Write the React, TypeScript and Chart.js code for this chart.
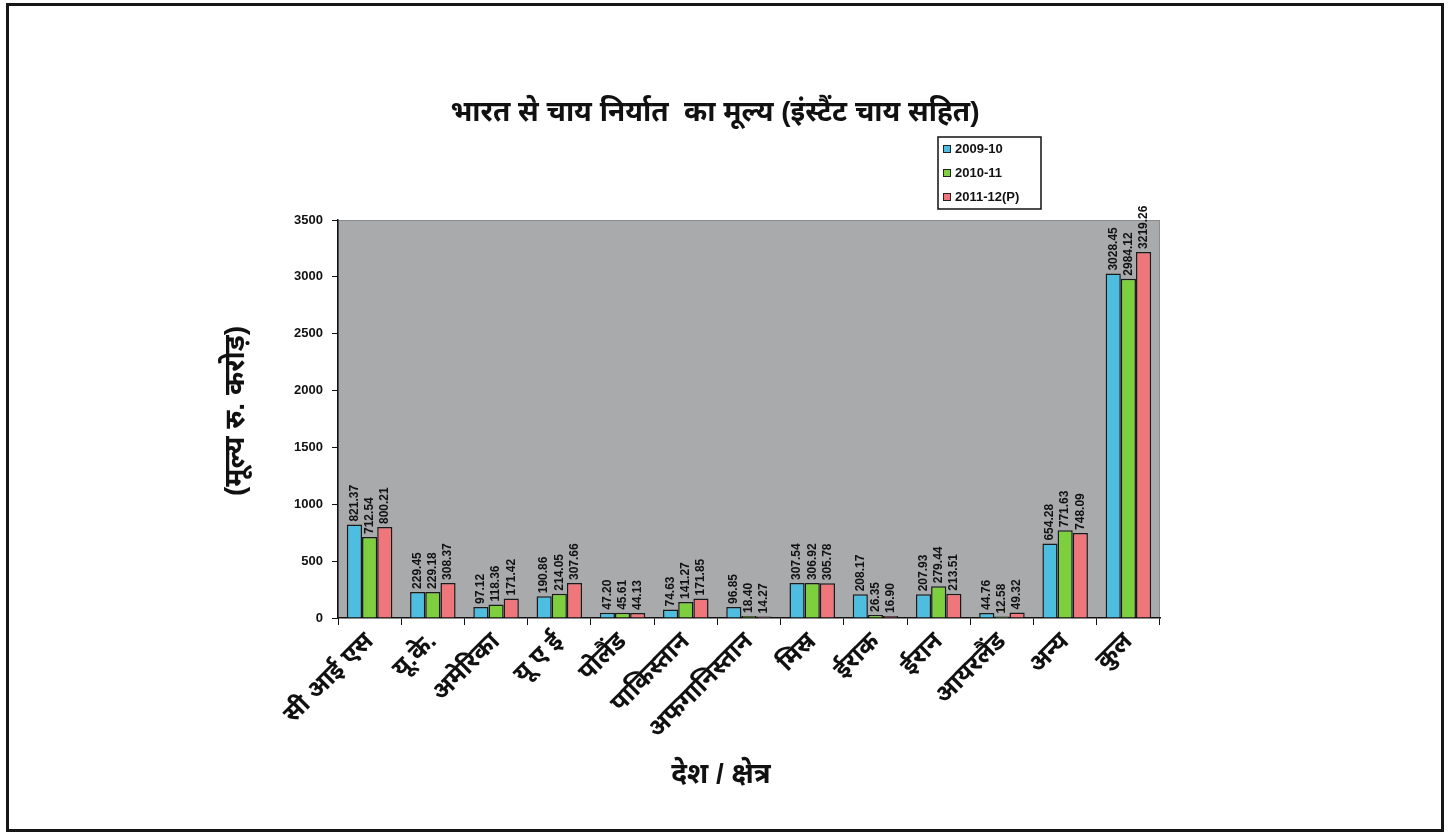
import React, { useEffect, useRef } from "react";
import { Chart, registerables } from "chart.js";

Chart.register(...registerables);

const chartTitle = "भारत से चाय निर्यात  का मूल्य (इंस्टैंट चाय सहित)";
const yAxisTitle = "(मूल्य रु. करोड़)";
const xAxisTitle = "देश / क्षेत्र";

const categories = [
  "सी आई एस",
  "यू.के.",
  "अमेरिका",
  "यू ए ई",
  "पोलैंड",
  "पाकिस्तान",
  "अफगानिस्तान",
  "मिस्र",
  "ईराक",
  "ईरान",
  "आयरलैंड",
  "अन्य",
  "कुल",
];

const seriesNames = ["2009-10", "2010-11", "2011-12(P)"];

const values2009 = [821.37, 229.45, 97.12, 190.86, 47.2, 74.63, 96.85, 307.54, 208.17, 207.93, 44.76, 654.28, 3028.45];
const values2010 = [712.54, 229.18, 118.36, 214.05, 45.61, 141.27, 18.4, 306.92, 26.35, 279.44, 12.58, 771.63, 2984.12];
const values2011 = [800.21, 308.37, 171.42, 307.66, 44.13, 171.85, 14.27, 305.78, 16.9, 213.51, 49.32, 748.09, 3219.26];

const yTicks = [0, 500, 1000, 1500, 2000, 2500, 3000, 3500];

const fillColors = ["#4dbde0", "#7dcf3d", "#ef767a"];
const FONT = "'Liberation Sans', Arial, 'Noto Sans', sans-serif";

const decorations = {
  id: "decorations",
  beforeDraw(chart: any) {
    const { ctx, chartArea } = chart;
    ctx.save();
    ctx.fillStyle = "#ffffff";
    ctx.fillRect(0, 0, chart.width, chart.height);
    ctx.fillStyle = "#a9aaac";
    ctx.fillRect(chartArea.left, chartArea.top, chartArea.right - chartArea.left, chartArea.bottom - chartArea.top);
    ctx.strokeStyle = "#8a8b8d";
    ctx.lineWidth = 1;
    ctx.strokeRect(chartArea.left + 0.5, chartArea.top + 0.5, chartArea.right - chartArea.left - 1, chartArea.bottom - chartArea.top - 1);
    ctx.restore();
  },
  afterDatasetsDraw(chart: any) {
    const { ctx } = chart;
    ctx.save();
    ctx.fillStyle = "#111";
    ctx.font = `bold 12px ${FONT}`;
    ctx.textAlign = "left";
    ctx.textBaseline = "middle";
    chart.data.datasets.forEach((ds: any, di: number) => {
      const meta = chart.getDatasetMeta(di);
      meta.data.forEach((bar: any, i: number) => {
        const v = ds.data[i];
        ctx.save();
        ctx.translate(bar.x, bar.y - 3);
        ctx.rotate(-Math.PI / 2);
        ctx.fillText(v.toFixed(2), 0, 0);
        ctx.restore();
      });
    });
    ctx.restore();
  },
  afterDraw(chart: any) {
    const { ctx } = chart;
    ctx.save();
    ctx.fillStyle = "#111";
    // chart title
    ctx.font = `bold 28px ${FONT}`;
    ctx.textAlign = "center";
    ctx.textBaseline = "middle";
    ctx.fillText(chartTitle, 715, 113);
    // x axis title
    ctx.fillText(xAxisTitle, 721, 775);
    // y axis title
    ctx.save();
    ctx.translate(236, 411);
    ctx.rotate(-Math.PI / 2);
    ctx.fillText(yAxisTitle, 0, 0);
    ctx.restore();

    // legend box
    const lx = 938, ly = 137, lw = 103, lh = 72;
    ctx.fillStyle = "#ffffff";
    ctx.fillRect(lx, ly, lw, lh);
    ctx.strokeStyle = "#111";
    ctx.lineWidth = 1.5;
    ctx.strokeRect(lx, ly, lw, lh);
    ctx.font = `bold 13px ${FONT}`;
    ctx.textAlign = "left";
    seriesNames.forEach((name, i) => {
      const cy = ly + 12 + i * 24;
      ctx.fillStyle = fillColors[i];
      ctx.fillRect(lx + 5, cy - 4, 8, 8);
      ctx.strokeStyle = "#222";
      ctx.lineWidth = 1;
      ctx.strokeRect(lx + 5.5, cy - 3.5, 7, 7);
      ctx.fillStyle = "#111";
      ctx.fillText(name, lx + 17, cy);
    });
    ctx.restore();
  },
};

export default function App() {
  const canvasRef = useRef<HTMLCanvasElement | null>(null);

  useEffect(() => {
    document.body.style.margin = "0";
    const canvas = canvasRef.current;
    if (!canvas) return;
    const chart = new Chart(canvas, {
      type: "bar",
      data: {
        labels: categories,
        datasets: [values2009, values2010, values2011].map((vals, i) => ({
          label: seriesNames[i],
          data: vals,
          backgroundColor: fillColors[i],
          borderColor: "#1a1a1a",
          borderWidth: 1.5,
          categoryPercentage: 0.72,
          barPercentage: 1.0,
        })),
      },
      options: {
        animation: false,
        responsive: false,
        devicePixelRatio: 1,
        layout: { padding: { left: 0, top: 220, right: 293, bottom: 0 } },
        plugins: {
          legend: { display: false },
          title: { display: false },
          tooltip: { enabled: false },
        },
        scales: {
          x: {
            offset: true,
            grid: {
              offset: true,
              drawOnChartArea: false,
              drawTicks: true,
              tickLength: 7,
              color: "#111",
            },
            border: { color: "#111", width: 1.5 },
            ticks: {
              color: "#111",
              font: { family: FONT, size: 25, weight: "bold" },
              maxRotation: 45,
              minRotation: 45,
              autoSkip: false,
              padding: 2,
            },
            afterFit(scale: any) {
              scale.height = 218;
            },
          },
          y: {
            min: 0,
            max: 3500,
            afterBuildTicks(scale: any) {
              scale.ticks = yTicks.map((v) => ({ value: v }));
            },
            grid: {
              drawOnChartArea: false,
              drawTicks: true,
              tickLength: 6,
              color: "#111",
            },
            border: { color: "#111", width: 1.5 },
            ticks: {
              color: "#111",
              font: { family: FONT, size: 13, weight: "bold" },
              padding: 9,
              callback: (v: any) => String(v),
            },
            afterFit(scale: any) {
              scale.width = 338;
            },
          },
        },
      },
      plugins: [decorations],
    });
    return () => chart.destroy();
  }, []);

  return (
    <div style={{ position: "fixed", left: 0, top: 0, width: 1453, height: 836, background: "#fff" }}>
      <canvas ref={canvasRef} width={1453} height={836} style={{ display: "block", width: 1453, height: 836 }} />
      <div
        style={{
          position: "absolute",
          left: 6,
          top: 3,
          width: 1432,
          height: 823,
          border: "3px solid #161616",
          pointerEvents: "none",
        }}
      />
    </div>
  );
}
